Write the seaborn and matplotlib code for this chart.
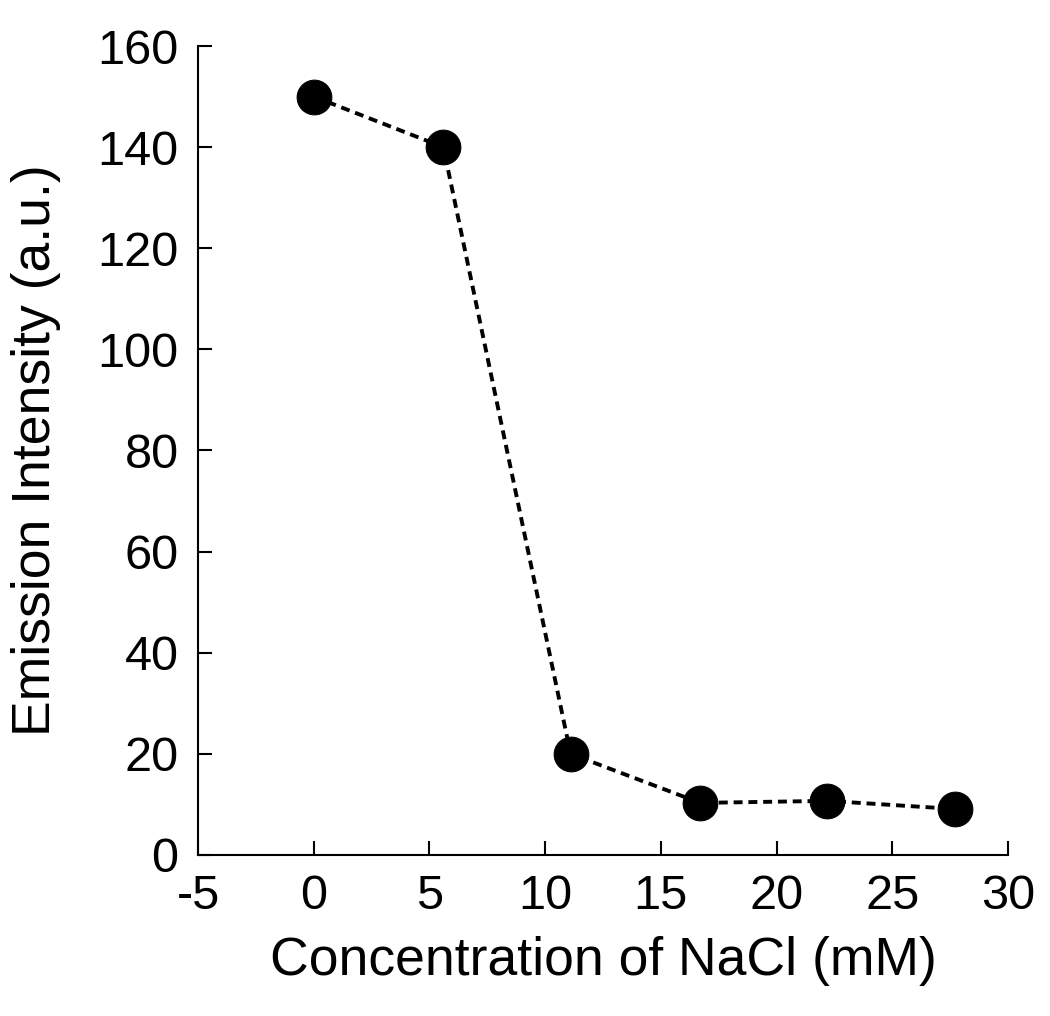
import matplotlib
matplotlib.use("Agg")
import matplotlib.pyplot as plt
import pandas as pd
import seaborn as sns

# ── data ─────────────────────────────────────────────────────────────────────
nacl_mM = [0.0, 5.6, 11.1, 16.7, 22.2, 27.7]
intensity = [150.0, 140.0, 20.0, 10.3, 10.7, 9.1]

x_ticks = [-5, 0, 5, 10, 15, 20, 25, 30]
y_ticks = [0, 20, 40, 60, 80, 100, 120, 140, 160]

df = pd.DataFrame({"nacl": nacl_mM, "intensity": intensity})

# ── style ────────────────────────────────────────────────────────────────────
sns.set_style("ticks", {"xtick.direction": "in", "ytick.direction": "in"})
plt.rcParams["font.family"] = ["Liberation Sans", "DejaVu Sans"]
plt.rcParams["axes.unicode_minus"] = False
plt.rcParams["text.color"] = "black"
plt.rcParams["axes.labelcolor"] = "black"

fig = plt.figure(figsize=(10.5, 10.16), dpi=100)
ax = fig.add_axes([0.1886, 0.1585, 0.7714, 0.7962])

sns.lineplot(
    data=df, x="nacl", y="intensity", ax=ax,
    color="black", linewidth=2.8, marker="o", markersize=25,
    markeredgecolor="black", markerfacecolor="black",
)
ax.lines[0].set_linestyle((0, (2.3, 1.5)))

ax.set_xlim(-5, 30)
ax.set_ylim(0, 160)
ax.set_xticks(x_ticks)
ax.set_yticks(y_ticks)

sns.despine(ax=ax)
for side in ("left", "bottom"):
    ax.spines[side].set_linewidth(1.5)
    ax.spines[side].set_color("black")

# ticks point into the plot area
ax.tick_params(axis="both", which="major", direction="in", length=10, width=1.5,
               labelsize=35, colors="black", pad=14)

ax.set_xlabel("Concentration of NaCl (mM)", fontsize=38.5, labelpad=12)
ax.set_ylabel("Emission Intensity (a.u.)", fontsize=38.5, labelpad=26)

fig.savefig("out.png", dpi=100)
